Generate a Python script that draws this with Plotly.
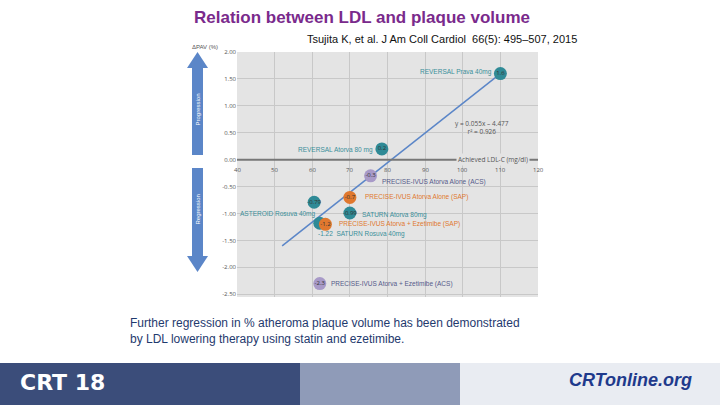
import plotly.graph_objects as go

ldl = [110, 78.5, 75.5, 70, 60.5, 70, 62, 63.5, 62]
pav = [1.6, 0.2, -0.3, -0.7, -0.79, -0.99, -1.18, -1.2, -2.3]
vals = ["1.6", "0.2", "-0.3", "-0.7", "-0.79", "-0.99", "", "-1.2", "-2.3"]
names = ["REVERSAL Prava 40mg", "REVERSAL Atorva 80 mg", "PRECISE-IVUS Atorva Alone (ACS)",
         "PRECISE-IVUS Atorva Alone (SAP)", "ASTEROID Rosuva 40mg", "SATURN Atorva 80mg",
         "-1.22  SATURN Rosuva 40mg", "PRECISE-IVUS Atorva + Ezetimibe (SAP)", "PRECISE-IVUS Atorva + Ezetimibe (ACS)"]
colors = ["#2f8a96", "#2f8a96", "#a89ac8", "#e0782e", "#2f8a96", "#2f8a96", "#2f8a96", "#e0782e", "#a89ac8"]
txtcol = ["#3a8f9a", "#3a8f9a", "#555a8a", "#e0782e", "#3a8f9a", "#3a8f9a", "#3a8f9a", "#e0782e", "#555a8a"]
lab_x = [108.3, 76.8, 78, 73.5, 40.3, 72.7, 61, 66.6, 64.5]
lab_y = [1.62, 0.18, -0.41, -0.7, -1.0, -1.03, -1.38, -1.2, -2.3]
lab_anchor = ["right", "right", "left", "left", "left", "left", "left", "left", "left"]
fit_x = [52, 110]
fit_y = [-1.6, 1.6]
xticks = [40, 50, 60, 70, 80, 90, 100, 110, 120]
yticks = [2.0, 1.5, 1.0, 0.5, 0.0, -0.5, -1.0, -1.5, -2.0, -2.5]

L, R, T, B = 237, 538, 52, 297
W, H = R - L, B - T
def px(x): return (x - L) / W
def py(y): return (B - y) / H

def pann(fig, x, y, text, size, color, xanchor="center", family="Arial, Liberation Sans", **kw):
    fig.add_annotation(xref="paper", yref="paper", x=px(x), y=py(y), text=text, showarrow=False,
                       xanchor=xanchor, yanchor="middle", font=dict(size=size, color=color, family=family), **kw)

fig = go.Figure()
fig.add_trace(go.Scatter(x=fit_x, y=fit_y, mode="lines", line=dict(color="#5b86c8", width=1.5), hoverinfo="skip"))
fig.add_trace(go.Scatter(x=ldl, y=pav, mode="markers+text", text=vals, textfont=dict(size=6, color="#333"),
                         marker=dict(size=13, color=colors, line=dict(width=0)), textposition="middle center"))
for i in range(len(names)):
    fig.add_annotation(x=lab_x[i], y=lab_y[i], text=names[i], showarrow=False, xanchor=lab_anchor[i], yanchor="middle",
                       font=dict(size=6.5, color=txtcol[i], family="Arial Narrow, Liberation Sans Narrow, Arial"))
for t in xticks:
    fig.add_annotation(x=t, y=-0.08, text=str(t), showarrow=False, yanchor="top", font=dict(size=6, color="#555"))
fig.add_annotation(x=108, y=0.0, text="Achieved LDL-C (mg/dl)", showarrow=False, bgcolor="#e4e4e4", yanchor="middle",
                   font=dict(size=6.5, color="#555"))
fig.add_annotation(x=105, y=0.6, text="y = 0.055x – 4.477<br>r² = 0.926", showarrow=False, yanchor="middle",
                   font=dict(size=6.5, color="#555"))
pann(fig, 205, 47, "ΔPAV (%)", 6, "#555")
fig.add_shape(type="line", x0=40, x1=120, y0=0, y1=0, line=dict(color="#777", width=2))

ax0, ax1 = px(192), px(203)
hx0, hx1 = px(187), px(208)
fig.add_shape(type="rect", xref="paper", yref="paper", x0=ax0, x1=ax1, y0=py(155), y1=py(68),
              fillcolor="#5b86c8", line_width=0)
fig.add_shape(type="path", xref="paper", yref="paper",
              path=f"M {hx0} {py(68)} L {hx1} {py(68)} L {px(197.5)} {py(52)} Z", fillcolor="#5b86c8", line_width=0)
fig.add_shape(type="rect", xref="paper", yref="paper", x0=ax0, x1=ax1, y0=py(256), y1=py(168),
              fillcolor="#5b86c8", line_width=0)
fig.add_shape(type="path", xref="paper", yref="paper",
              path=f"M {hx0} {py(256)} L {hx1} {py(256)} L {px(197.5)} {py(272)} Z", fillcolor="#5b86c8", line_width=0)
pann(fig, 197.5, 110, "Progression", 6, "white", textangle=-90)
pann(fig, 197.5, 210, "Regression", 6, "white", textangle=-90)

pann(fig, 362, 17, "<b>Relation between LDL and plaque volume</b>", 17, "#7a2a8c")
pann(fig, 442, 39, "Tsujita K, et al. J Am Coll Cardiol  66(5): 495–507, 2015", 11, "#111")
pann(fig, 128, 331, "Further regression in % atheroma plaque volume has been demonstrated<br>by LDL lowering therapy using statin and ezetimibe.",
     12, "#1f3a6e", xanchor="left", align="left")
fig.add_shape(type="rect", xref="paper", yref="paper", x0=px(0), x1=px(720), y0=py(405), y1=py(363),
              fillcolor="#e9ecf2", line_width=0, layer="below")
fig.add_shape(type="rect", xref="paper", yref="paper", x0=px(0), x1=px(300), y0=py(405), y1=py(363),
              fillcolor="#3b4d7a", line_width=0, layer="below")
fig.add_shape(type="rect", xref="paper", yref="paper", x0=px(300), x1=px(460), y0=py(405), y1=py(363),
              fillcolor="#8f9bb8", line_width=0, layer="below")
pann(fig, 18, 382, "<b>CRT 18</b>", 22, "white", xanchor="left", family="DejaVu Sans")
pann(fig, 630, 380, "<b><i>CRTonline.org</i></b>", 18, "#1f3a8c")

fig.update_layout(width=720, height=405, margin=dict(l=L, r=720 - R, t=T, b=405 - B, pad=0), showlegend=False,
                  paper_bgcolor="white", plot_bgcolor="#e4e4e4",
                  xaxis=dict(range=[40, 120], tickvals=xticks, showticklabels=False, gridcolor="#c8c8c8",
                             zeroline=False, showline=False, automargin=False),
                  yaxis=dict(range=[-2.55, 2.0], tickvals=yticks, ticktext=[f"{v:.2f}" for v in yticks], automargin=False,
                             tickfont=dict(size=6, color="#555"), gridcolor="#c8c8c8", zeroline=False))
fig.write_html("out.html", config={"displayModeBar": False},
               post_script="document.body.style.margin='0';document.body.style.overflow='hidden';")
